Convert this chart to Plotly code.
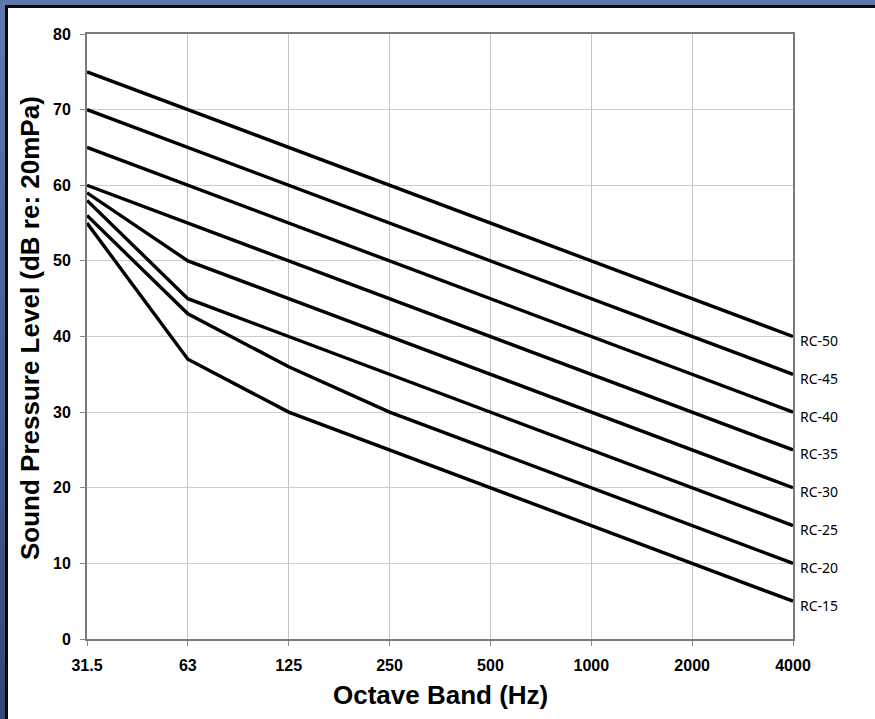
import plotly.graph_objects as go

bands = ["31.5", "63", "125", "250", "500", "1000", "2000", "4000"]
rc_names = ["RC-50", "RC-45", "RC-40", "RC-35", "RC-30", "RC-25", "RC-20", "RC-15"]
rc50 = [75, 70, 65, 60, 55, 50, 45, 40]
rc45 = [70, 65, 60, 55, 50, 45, 40, 35]
rc40 = [65, 60, 55, 50, 45, 40, 35, 30]
rc35 = [60, 55, 50, 45, 40, 35, 30, 25]
rc30 = [59, 50, 45, 40, 35, 30, 25, 20]
rc25 = [58, 45, 40, 35, 30, 25, 20, 15]
rc20 = [56, 43, 36, 30, 25, 20, 15, 10]
rc15 = [55, 37, 30, 25, 20, 15, 10, 5]
series = [rc50, rc45, rc40, rc35, rc30, rc25, rc20, rc15]

W, H = 875, 719
L, R, T, B = 87, 793, 34, 639
pw, ph = R - L, B - T

def px(x):
    return (x - L) / pw

def py(y):
    return (B - y) / ph

xi = list(range(len(bands)))
fig = go.Figure()
for name, vals in zip(rc_names, series):
    fig.add_trace(go.Scatter(x=xi, y=vals, mode="lines", name=name,
                             line=dict(color="black", width=3.4),
                             showlegend=False, hoverinfo="x+y+name"))

annotations = []
for name, vals in zip(rc_names, series):
    annotations.append(dict(x=xi[-1], y=vals[-1], xref="x", yref="y", text=name,
                            showarrow=False, xanchor="left", yanchor="middle",
                            xshift=5, yshift=-4,
                            font=dict(family="Noto Sans", size=14, color="black")))
annotations.append(dict(x=0.5, y=py(695), xref="paper", yref="paper",
                        text="Octave Band (Hz)", showarrow=False,
                        xanchor="center", yanchor="middle",
                        font=dict(family="Liberation Sans, Arial", size=26,
                                  color="black", weight="bold")))
annotations.append(dict(x=px(30), y=py(328), xref="paper", yref="paper",
                        text="Sound Pressure Level (dB re: 20mPa)", showarrow=False,
                        textangle=-90, xanchor="center", yanchor="middle",
                        font=dict(family="Liberation Sans, Arial", size=26,
                                  color="black", weight="bold")))

shapes = []
# top blue band
shapes.append(dict(type="rect", xref="paper", yref="paper", x0=px(0), x1=px(W),
                   y0=py(0), y1=py(5), fillcolor="#6077ae", line=dict(width=0), layer="above"))
# left blue band with vertical gradient
nseg = 24
c0 = (0x60, 0x77, 0xae)
c1 = (0x33, 0x47, 0x77)
for i in range(nseg):
    t = i / (nseg - 1)
    c = tuple(int(round(c0[k] + (c1[k] - c0[k]) * t)) for k in range(3))
    ya = H * i / nseg
    yb = H * (i + 1) / nseg + 1
    shapes.append(dict(type="rect", xref="paper", yref="paper", x0=px(0), x1=px(5),
                       y0=py(ya), y1=py(yb), fillcolor="rgb(%d,%d,%d)" % c,
                       line=dict(width=0), layer="above"))
# black inner frame
shapes.append(dict(type="rect", xref="paper", yref="paper", x0=px(5), x1=px(W),
                   y0=py(5), y1=py(8), fillcolor="#0a0a0a", line=dict(width=0), layer="above"))
shapes.append(dict(type="rect", xref="paper", yref="paper", x0=px(5), x1=px(8),
                   y0=py(5), y1=py(H), fillcolor="#0a0a0a", line=dict(width=0), layer="above"))

tickfont = dict(family="Liberation Sans, Arial", size=16, color="black", weight="bold")
fig.update_layout(
    width=W, height=H,
    margin=dict(l=L, r=W - R, t=T, b=H - B, autoexpand=False),
    paper_bgcolor="white", plot_bgcolor="white",
    annotations=annotations, shapes=shapes,
    xaxis=dict(range=[0, len(bands) - 1], tickmode="array", tickvals=xi, ticktext=bands,
               showgrid=True, gridcolor="#c4c4c4", gridwidth=1,
               showline=True, linecolor="#7a7a7a", linewidth=2, mirror=True,
               ticks="outside", ticklen=5, tickcolor="#8a8a8a", tickwidth=1,
               tickfont=tickfont, ticklabelstandoff=6, zeroline=False),
    yaxis=dict(range=[0, 80], tickmode="array", tickvals=list(range(0, 81, 10)),
               showgrid=True, gridcolor="#cccccc", gridwidth=1,
               showline=True, linecolor="#7a7a7a", linewidth=2, mirror=True,
               ticks="outside", ticklen=5, tickcolor="#8a8a8a", tickwidth=1,
               tickfont=tickfont, ticklabelstandoff=6, zeroline=False),
)

fig.write_html("out.html", config={"displayModeBar": False},
               post_script="document.body.style.margin='0';document.body.style.padding='0';")
